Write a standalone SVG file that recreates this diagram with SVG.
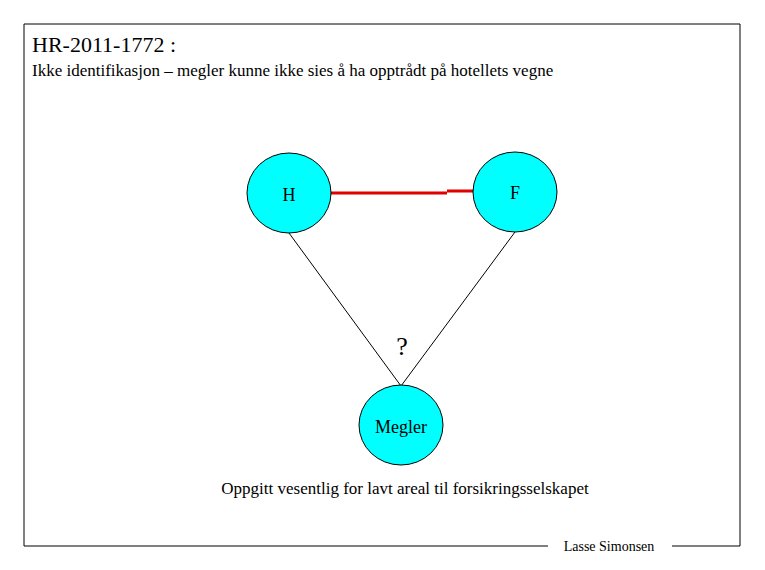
<svg xmlns="http://www.w3.org/2000/svg" width="765" height="570" viewBox="0 0 765 570">
<style>
text{font-family:"Liberation Serif",serif;fill:#000}
.n{fill:#00ffff;stroke:#000;stroke-width:1}
</style>
<rect width="765" height="570" fill="#fff"/>
<path d="M548,546 H24 V24 H740 V546 H672" fill="none" stroke="#000" stroke-width="1"/>
<text x="32" y="52" font-size="22">HR-2011-1772 :</text>
<text x="32" y="76" font-size="17">Ikke identifikasjon – megler kunne ikke sies å ha opptrådt på hotellets vegne</text>
<g id="connectors" fill="none">
<path d="M331,193 H447 M447,191 H473" stroke="#e00000" stroke-width="3"/>
<line x1="289" y1="233" x2="401" y2="386" stroke="#000"/>
<line x1="515" y1="232" x2="401" y2="386" stroke="#000"/>
</g>
<g id="H"><ellipse class="n" cx="289" cy="193" rx="42" ry="40"/><text x="289" y="201" font-size="18" text-anchor="middle">H</text></g>
<g id="F"><ellipse class="n" cx="515" cy="192" rx="42" ry="40"/><text x="515" y="199" font-size="18" text-anchor="middle">F</text></g>
<g id="Megler"><ellipse class="n" cx="401" cy="425" rx="42" ry="40"/><text x="401" y="433" font-size="18" text-anchor="middle">Megler</text></g>
<text x="402" y="355" font-size="26" text-anchor="middle">?</text>
<text x="405" y="494" font-size="17" text-anchor="middle">Oppgitt vesentlig for lavt areal til forsikringsselskapet</text>
<text x="609" y="551" font-size="14" text-anchor="middle">Lasse Simonsen</text>
</svg>
